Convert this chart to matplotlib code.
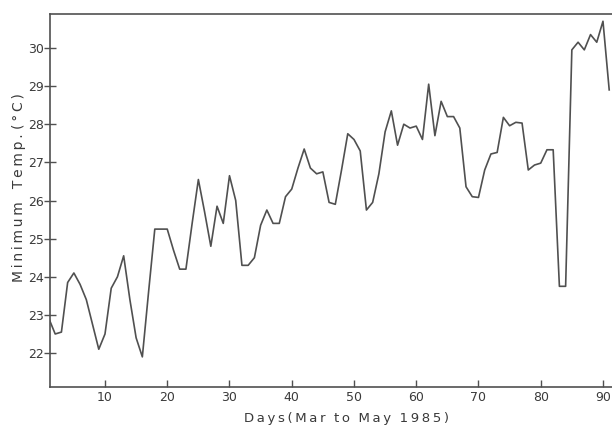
import numpy as np
import matplotlib
matplotlib.use("Agg")
import matplotlib.pyplot as plt

# minimum temperature, one value per day
days = list(range(1, 92))
min_temp = [
    22.9, 22.5, 22.55, 23.85, 24.1, 23.8, 23.4, 22.75, 22.1, 22.5,
    23.7, 24.0, 24.55, 23.4, 22.4, 21.9, 23.6, 25.25, 25.25, 25.25,
    24.7, 24.2, 24.2, 25.4, 26.55, 25.7, 24.8, 25.85, 25.4, 26.65,
    26.0, 24.3, 24.3, 24.5, 25.35, 25.75, 25.4, 25.4, 26.1, 26.3,
    26.85, 27.35, 26.85, 26.7, 26.75, 25.95, 25.9, 26.8, 27.75, 27.6,
    27.3, 25.75, 25.95, 26.7, 27.8, 28.35, 27.45, 28.0, 27.9, 27.95,
    27.6, 29.05, 27.7, 28.6, 28.2, 28.2, 27.9, 26.36, 26.1, 26.08,
    26.8, 27.22, 27.26, 28.18, 27.96, 28.05, 28.03, 26.8, 26.93, 26.98,
    27.33, 27.33, 23.75, 23.75, 29.95, 30.15, 29.95, 30.35, 30.15, 30.7,
    28.9,
]
x_ticks = [10, 20, 30, 40, 50, 60, 70, 80, 90]
y_ticks = [22, 23, 24, 25, 26, 27, 28, 29, 30]

ink = "#505050"
ts = "\u2009"

fig = plt.figure(figsize=(6.12, 4.26), dpi=100)
ax = fig.add_axes([50 / 612, 39 / 426, 562 / 612, 373 / 426])

ax.plot(days, min_temp, color=ink, lw=1.2)

ax.set_xlim(1.165, 91.45)
ax.set_ylim(21.11, 30.89)
ax.set_xticks(x_ticks)
ax.set_yticks(y_ticks)

for side in ["left", "bottom", "top"]:
    ax.spines[side].set_color(ink)
    ax.spines[side].set_linewidth(1.2)
ax.spines["right"].set_visible(False)

ax.tick_params(axis="x", direction="in", length=5, width=1, colors=ink,
               labelsize=9, pad=3)
ax.tick_params(axis="y", direction="inout", length=9, width=1, colors=ink,
               labelsize=9, pad=0)
for lab in ax.get_xticklabels() + ax.get_yticklabels():
    lab.set_color("#3a3a3a")

ylab = ts.join("Minimum") + "   " + ts.join("Temp.") + " " + ts.join("(°C)")
xlab = ts.join("Days(Mar") + "  " + ts.join("to") + "  " + ts.join("May") + "  " + ts.join("1985)")
ax.set_ylabel(ylab, fontsize=10, color="#3a3a3a")
ax.set_xlabel(xlab, fontsize=9.5, color="#3a3a3a")
ax.yaxis.set_label_coords(-0.043, 0.536)
ax.xaxis.set_label_coords(0.527, -0.066)

fig.savefig("out.png", dpi=100, facecolor="white")
